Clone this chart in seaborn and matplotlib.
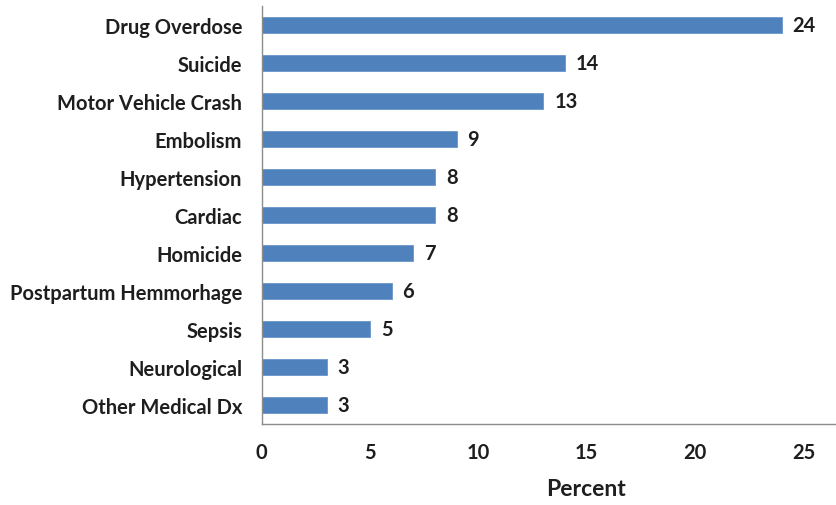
import matplotlib
matplotlib.use("Agg")
import matplotlib.pyplot as plt
import seaborn as sns
import pandas as pd
import numpy as np

causes = ["Drug Overdose", "Suicide", "Motor Vehicle Crash", "Embolism", "Hypertension",
          "Cardiac", "Homicide", "Postpartum Hemmorhage", "Sepsis", "Neurological",
          "Other Medical Dx"]
percent = [24, 14, 13, 9, 8, 8, 7, 6, 5, 3, 3]
x_ticks = [0, 5, 10, 15, 20, 25]

df = pd.DataFrame({"cause": causes, "percent": percent})

sns.set_theme(style="white")
plt.rcParams["font.family"] = ["Lato", "DejaVu Sans"]
plt.rcParams["font.weight"] = "bold"

fig = plt.figure(figsize=(8.36, 5.06), dpi=100)
ax = fig.add_axes([0.313, 0.16, 0.687, 0.826])

sns.barplot(data=df, x="percent", y="cause", orient="h", color="#4F81BD",
            saturation=1, width=0.42, edgecolor="#6A95C8", linewidth=0.6, ax=ax)

text_color = "#1e1e1e"
for i, v in enumerate(percent):
    ax.text(v + 0.5, i, f"{v}", va="center", ha="left", fontsize=14.5,
            fontweight="bold", color=text_color)

ax.set_xlim(0, 26.5)
ax.set_ylim(len(causes) - 0.5, -0.5)
ax.set_xticks(x_ticks)
ax.set_xticklabels([str(t) for t in x_ticks], fontsize=14.5, fontweight="bold", color=text_color)
ax.set_yticks(range(len(causes)))
ax.set_yticklabels(causes, fontsize=14.5, fontweight="bold", color=text_color)
ax.set_yticks(np.arange(-0.5, len(causes), 1), minor=True)
ax.tick_params(axis="y", which="major", length=0, pad=14)
ax.tick_params(axis="y", which="minor", length=5, width=1, color="#8c8c8c", direction="out")
ax.tick_params(axis="x", which="major", length=5, width=1, color="#8c8c8c", direction="out", pad=8)
ax.set_xlabel("Percent", fontsize=16.5, fontweight="bold", color=text_color, labelpad=10)
ax.xaxis.set_label_coords(0.565, -0.13)
ax.set_ylabel("")

for side in ["top", "right"]:
    ax.spines[side].set_visible(False)
for side in ["left", "bottom"]:
    ax.spines[side].set_color("#8c8c8c")
    ax.spines[side].set_linewidth(1)

fig.savefig("out.png", dpi=100, facecolor="white")
